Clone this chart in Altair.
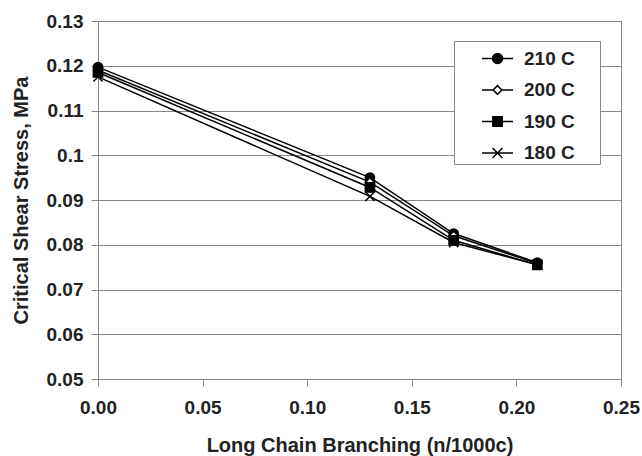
import altair as alt
import pandas as pd

lcb = [0.00, 0.13, 0.17, 0.21]
series_names = ["210 C", "200 C", "190 C", "180 C"]
s210 = [0.1197, 0.0950, 0.0825, 0.0760]
s200 = [0.1190, 0.0940, 0.0820, 0.0758]
s190 = [0.1185, 0.0928, 0.0810, 0.0755]
s180 = [0.1175, 0.0908, 0.0805, 0.0755]
y_ticks = [0.05, 0.06, 0.07, 0.08, 0.09, 0.10, 0.11, 0.12, 0.13]
x_ticks = [0.00, 0.05, 0.10, 0.15, 0.20, 0.25]

rows = []
for name, vals in zip(series_names, [s210, s200, s190, s180]):
    for xv, yv in zip(lcb, vals):
        rows.append({"series": name, "lcb": xv, "stress": yv})
df = pd.DataFrame(rows)

FONT = "Liberation Sans"
TXT = "#222222"
GRID = "#888888"

data_shapes = ["circle", "diamond", "square", "M-1,-1L1,1M-1,1L1,-1"]
data_sizes = [85, 80, 85, 85]
fills = ["black", "white", "black", "transparent"]
strokes = ["black", "black", "black", "black"]
legend_shapes = [
    "M-1,0L1,0M-0.32,0A0.32,0.32 0 1,0 0.32,0A0.32,0.32 0 1,0 -0.32,0Z",
    "M-1,0L-0.28,0M0.28,0L1,0M-0.28,0L0,-0.28L0.28,0L0,0.28Z",
    "M-1,0L1,0M-0.3,-0.3L0.3,-0.3L0.3,0.3L-0.3,0.3Z",
    "M-1,0L1,0M-0.32,-0.32L0.32,0.32M-0.32,0.32L0.32,-0.32",
]

x_enc = alt.X("lcb:Q", scale=alt.Scale(domain=[0, 0.25], nice=False),
              axis=alt.Axis(values=x_ticks, format=".2f", title="Long Chain Branching (n/1000c)",
                            grid=False, tickSize=7, labelPadding=12, titlePadding=18,
                            labelFlush=False))
y_enc = alt.Y("stress:Q", scale=alt.Scale(domain=[0.05, 0.13], nice=False, zero=False),
              axis=alt.Axis(values=y_ticks, format=".2~f", title="Critical Shear Stress, MPa",
                            grid=True, tickSize=7, labelPadding=8, titlePadding=15,
                            labelFlush=False))

base = alt.Chart(df)

lines = base.mark_line(color="black", strokeWidth=1.5).encode(
    x=x_enc, y=y_enc, detail="series:N"
)

point_layers = []
for name, shp, fl, sz in zip(series_names, data_shapes, fills, data_sizes):
    point_layers.append(
        base.transform_filter(alt.datum.series == name).mark_point(
            shape=shp, fill=fl, stroke="black", strokeWidth=1.5, opacity=1, size=sz, filled=False
        ).encode(x=x_enc, y=y_enc)
    )

leg = alt.Legend(
    title=".", titleOrient="right", titleColor="white", titleFontSize=19,
    titlePadding=18, titleFont=FONT,
    orient="none", legendX=356, legendY=20,
    padding=1, symbolSize=961, symbolOffset=26, labelOffset=10, rowPadding=4.5,
    labelFont=FONT, labelFontSize=19, labelFontWeight="bold", labelColor=TXT,
    strokeColor=GRID, fillColor="white",
    symbolStrokeColor="black", symbolStrokeWidth=1.5, symbolOpacity=1,
)

legend_layer = base.transform_filter("false").mark_point(
    strokeWidth=1.5, opacity=1
).encode(
    x=x_enc, y=y_enc,
    shape=alt.Shape("series:N", scale=alt.Scale(domain=series_names, range=legend_shapes), legend=leg),
    fill=alt.Fill("series:N", scale=alt.Scale(domain=series_names, range=fills), legend=leg),
    stroke=alt.Stroke("series:N", scale=alt.Scale(domain=series_names, range=strokes), legend=leg),
)

chart = alt.layer(lines, *point_layers, legend_layer).properties(
    width=523, height=358,
    autosize=alt.AutoSizeParams(type="none"),
    padding={"left": 98, "top": 21, "right": 21, "bottom": 77},
    background="white",
).configure_view(
    stroke=GRID, strokeWidth=1
).configure_axis(
    labelFont=FONT, labelFontSize=19, labelFontWeight="bold", labelColor=TXT,
    titleFont=FONT, titleFontSize=20, titleFontWeight="bold", titleColor=TXT,
    domainColor=GRID, tickColor=GRID, gridColor=GRID, gridWidth=1, gridOpacity=1,
    domainWidth=1, tickWidth=1,
)

chart.save("out.html", embed_options={"renderer": "svg", "actions": False})
